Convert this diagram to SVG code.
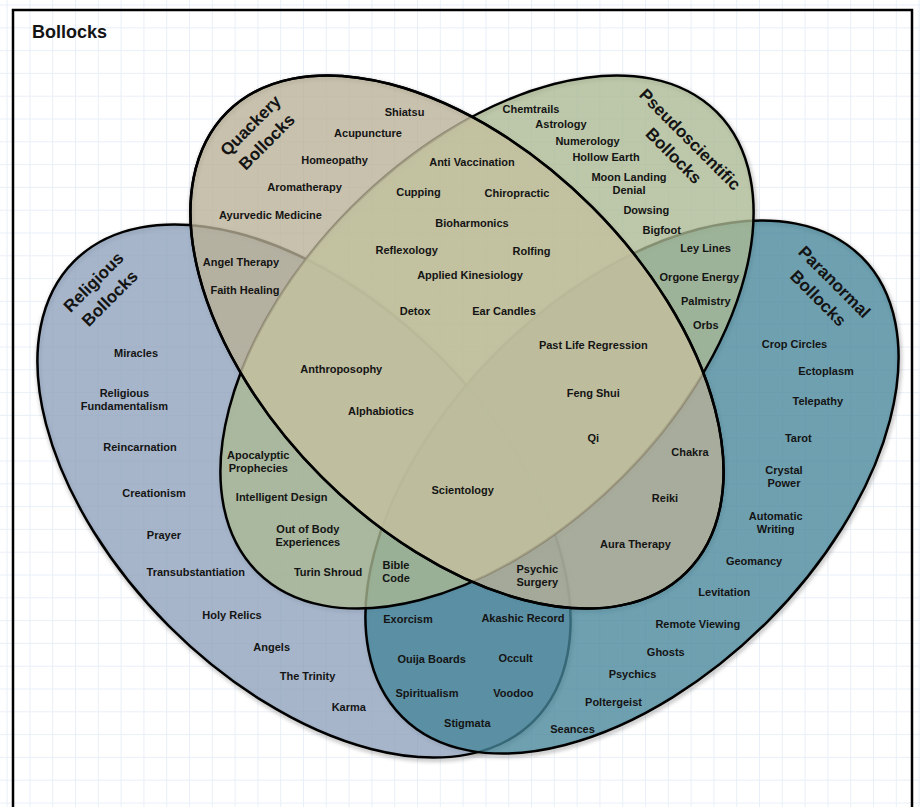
<svg xmlns="http://www.w3.org/2000/svg" width="920" height="807" viewBox="0 0 920 807">
<defs>
<pattern id="grid" patternUnits="userSpaceOnUse" x="6.6" y="4.5" width="22.8" height="22.8">
<path d="M0 0.5H22.8M0.5 0V22.8" fill="none" stroke="#e9eff8" stroke-width="1"/>
</pattern>
<filter id="blur" x="-10%" y="-10%" width="120%" height="120%">
<feGaussianBlur stdDeviation="2"/>
</filter>
<ellipse id="e" rx="325" ry="191"/>
<clipPath id="cp"><ellipse rx="325" ry="191" transform="translate(487 342) rotate(-45)"/></clipPath>
<style>
.set{stroke:#000;stroke-width:2.5}
.r{fill:#8da0ba;fill-opacity:0.78}
.n{fill:#46859a;fill-opacity:0.78}
.p{fill:#aab892;fill-opacity:0.78}
.q{fill:#b9b096;fill-opacity:0.78}
.sh{fill:none;stroke:#000;stroke-width:3;stroke-opacity:0.35}
text{font-family:"Liberation Sans",Arial,Helvetica,sans-serif;font-weight:bold;fill:#141414}
.l{font-size:11px;text-anchor:middle}
.t{font-size:17px;text-anchor:middle}
</style>
</defs>
<rect width="920" height="807" fill="#fff"/>
<rect width="920" height="807" fill="url(#grid)"/>
<rect x="13" y="10" width="899" height="820" fill="none" stroke="#000" stroke-width="2.5"/>
<text x="32" y="38" font-size="18">Bollocks</text>

<g id="shadows" filter="url(#blur)">
<use href="#e" class="sh" transform="translate(305 493) rotate(45)"/>
<use href="#e" class="sh" transform="translate(633 489) rotate(-45)"/>
<use href="#e" class="sh" transform="translate(488 344) rotate(-45)"/>
<use href="#e" class="sh" transform="translate(458 344) rotate(45)"/>
</g>

<g id="religious"><ellipse class="set r" rx="325" ry="191" transform="translate(304 491) rotate(45)"/></g>
<g id="paranormal"><ellipse class="set n" rx="325" ry="191" transform="translate(632 487) rotate(-45)"/></g>
<g id="pseudoscientific"><ellipse class="set p" rx="325" ry="191" transform="translate(487 342) rotate(-45)"/></g>
<g id="quackery">
<ellipse class="set q" rx="325" ry="191" transform="translate(457 342) rotate(45)"/>
<g clip-path="url(#cp)"><ellipse rx="325" ry="191" transform="translate(457 342) rotate(45)" fill="#d2d8ac" fill-opacity="0.35"/></g>
<ellipse rx="325" ry="191" transform="translate(457 342) rotate(45)" fill="none" stroke="#000" stroke-width="2.5"/>
</g>

<g id="titles">
<text class="t" transform="translate(258.5 133.5) rotate(-45)"><tspan x="0" y="-5.5">Quackery</tspan><tspan x="0" y="17.5">Bollocks</tspan></text>
<text class="t" transform="translate(101.5 290) rotate(-45)"><tspan x="0" y="-5.5">Religious</tspan><tspan x="0" y="17.5">Bollocks</tspan></text>
<text class="t" transform="translate(682 147.5) rotate(45)"><tspan x="0" y="-5.5">Pseudoscientific</tspan><tspan x="0" y="17.5">Bollocks</tspan></text>
<text class="t" transform="translate(826.5 290) rotate(45)"><tspan x="0" y="-5.5">Paranormal</tspan><tspan x="0" y="17.5">Bollocks</tspan></text>
</g>

<g id="labels" class="l">
<text class="l" x="404.5" y="116">Shiatsu</text>
<text class="l" x="368" y="137">Acupuncture</text>
<text class="l" x="334.5" y="164">Homeopathy</text>
<text class="l" x="304.5" y="191">Aromatherapy</text>
<text class="l" x="270.5" y="219">Ayurvedic Medicine</text>
<text class="l" x="472" y="166">Anti Vaccination</text>
<text class="l" x="418.5" y="196">Cupping</text>
<text class="l" x="517" y="197">Chiropractic</text>
<text class="l" x="472" y="227">Bioharmonics</text>
<text class="l" x="406.7" y="254">Reflexology</text>
<text class="l" x="531.5" y="255">Rolfing</text>
<text class="l" x="470" y="279">Applied Kinesiology</text>
<text class="l" x="415" y="315">Detox</text>
<text class="l" x="504" y="315">Ear Candles</text>
<text class="l" x="241" y="266">Angel Therapy</text>
<text class="l" x="245" y="294">Faith Healing</text>
<text class="l" x="531" y="113">Chemtrails</text>
<text class="l" x="561" y="128">Astrology</text>
<text class="l" x="587.5" y="145">Numerology</text>
<text class="l" x="606" y="161">Hollow Earth</text>
<text class="l" x="629" y="181">Moon Landing<tspan x="629" dy="13">Denial</tspan></text>
<text class="l" x="646.3" y="214">Dowsing</text>
<text class="l" x="661.7" y="234">Bigfoot</text>
<text class="l" x="705.5" y="252">Ley Lines</text>
<text class="l" x="699.3" y="281">Orgone Energy</text>
<text class="l" x="705.8" y="305">Palmistry</text>
<text class="l" x="705.8" y="329">Orbs</text>
<text class="l" x="593.3" y="349">Past Life Regression</text>
<text class="l" x="593.3" y="397">Feng Shui</text>
<text class="l" x="593.3" y="442">Qi</text>
<text class="l" x="341.3" y="373">Anthroposophy</text>
<text class="l" x="381" y="415">Alphabiotics</text>
<text class="l" x="462.7" y="494">Scientology</text>
<text class="l" x="258.3" y="459">Apocalyptic<tspan x="258.3" dy="13">Prophecies</tspan></text>
<text class="l" x="281.7" y="501">Intelligent Design</text>
<text class="l" x="307.8" y="533">Out of Body<tspan x="307.8" dy="13">Experiences</tspan></text>
<text class="l" x="328" y="576">Turin Shroud</text>
<text class="l" x="396" y="569">Bible<tspan x="396" dy="13">Code</tspan></text>
<text class="l" x="537.3" y="573">Psychic<tspan x="537.3" dy="13">Surgery</tspan></text>
<text class="l" x="690" y="456">Chakra</text>
<text class="l" x="665" y="502">Reiki</text>
<text class="l" x="635.5" y="548">Aura Therapy</text>
<text class="l" x="794.5" y="348">Crop Circles</text>
<text class="l" x="826" y="375">Ectoplasm</text>
<text class="l" x="817.8" y="405">Telepathy</text>
<text class="l" x="798.3" y="442">Tarot</text>
<text class="l" x="784" y="474">Crystal<tspan x="784" dy="12.5">Power</tspan></text>
<text class="l" x="775.7" y="520">Automatic<tspan x="775.7" dy="12.5">Writing</tspan></text>
<text class="l" x="754" y="565">Geomancy</text>
<text class="l" x="724.3" y="596">Levitation</text>
<text class="l" x="697.8" y="628">Remote Viewing</text>
<text class="l" x="665.8" y="656">Ghosts</text>
<text class="l" x="632.5" y="678">Psychics</text>
<text class="l" x="613.5" y="706">Poltergeist</text>
<text class="l" x="572.5" y="733">Seances</text>
<text class="l" x="136" y="357">Miracles</text>
<text class="l" x="124.4" y="397">Religious<tspan x="124.4" dy="12.5">Fundamentalism</tspan></text>
<text class="l" x="140" y="451">Reincarnation</text>
<text class="l" x="154" y="497">Creationism</text>
<text class="l" x="164" y="539">Prayer</text>
<text class="l" x="195.8" y="576">Transubstantiation</text>
<text class="l" x="232" y="619">Holy Relics</text>
<text class="l" x="271.7" y="651">Angels</text>
<text class="l" x="307.5" y="680">The Trinity</text>
<text class="l" x="348.8" y="711">Karma</text>
<text class="l" x="408" y="623">Exorcism</text>
<text class="l" x="523" y="622">Akashic Record</text>
<text class="l" x="431.7" y="663">Ouija Boards</text>
<text class="l" x="515.5" y="662">Occult</text>
<text class="l" x="427" y="697">Spiritualism</text>
<text class="l" x="513.3" y="697">Voodoo</text>
<text class="l" x="467.3" y="727">Stigmata</text>
</g>
</svg>
